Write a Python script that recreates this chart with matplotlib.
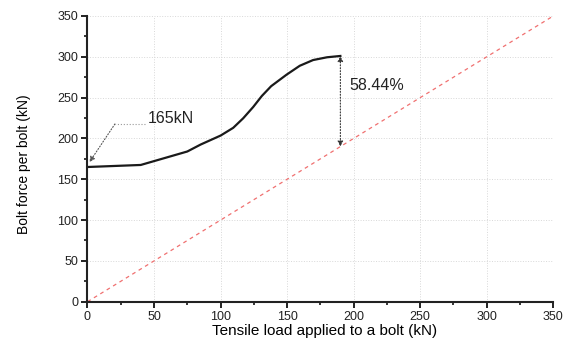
import numpy as np
import matplotlib.pyplot as plt
from matplotlib.ticker import MultipleLocator

plt.rcParams['font.family'] = ['Liberation Sans', 'DejaVu Sans']

# curva fuerza en perno vs carga aplicada
load = [0, 40, 75, 85, 100, 109.5, 117, 124.5, 131, 138, 149.5, 159.5, 169.5, 180, 190]
bolt_force = [165, 167.5, 184, 192.5, 203.5, 213, 224.7, 238.5, 252, 264, 278,
              289, 296, 299.4, 301]

ref_x = [0, 350]
ref_y = [0, 350]

fig, ax = plt.subplots(figsize=(5.7, 3.47), dpi=100)
fig.subplots_adjust(left=0.1535, right=0.9707, bottom=0.1305, top=0.954)

ax.plot(ref_x, ref_y, color='#f07070', lw=0.9, ls=(0, (3, 3)))
ax.plot(load, bolt_force, color='#1a1a1a', lw=1.6)

# flecha de diferencia
ax.annotate('', xy=(load[-1], bolt_force[-1]), xytext=(load[-1], load[-1]),
            arrowprops=dict(arrowstyle='<|-|>', color='#333333', lw=0.8,
                            ls=':', mutation_scale=8, shrinkA=0, shrinkB=0))
ax.text(197, 265, '58.44%', fontsize=11.5, va='center', ha='left', color='#222222')

# etiqueta 165kN
ax.plot([43.2, 20.6], [217.7, 217.7], color='#999999', lw=0.8, ls=':')
ax.annotate('', xy=(1.5, 171), xytext=(20.6, 217.7),
            arrowprops=dict(arrowstyle='-|>', color='#555555', lw=0.8, ls=':',
                            mutation_scale=8, shrinkA=0, shrinkB=0))
ax.text(45.4, 225, '165kN', fontsize=11.5, va='center', ha='left', color='#222222')

ax.set_xlim(0, 350)
ax.set_ylim(0, 350)
ax.xaxis.set_major_locator(MultipleLocator(50))
ax.yaxis.set_major_locator(MultipleLocator(50))
ax.xaxis.set_minor_locator(MultipleLocator(25))
ax.yaxis.set_minor_locator(MultipleLocator(25))
ax.grid(True, which='major', color='#d8d8d8', lw=0.7, ls=':')
ax.set_axisbelow(True)

for s in ['top', 'right']:
    ax.spines[s].set_visible(False)
for s in ['left', 'bottom']:
    ax.spines[s].set_linewidth(1.5)
    ax.spines[s].set_color('#222222')
ax.tick_params(which='major', direction='out', length=4.3, width=1.4,
               labelsize=9, colors='#222222', pad=2.5)
ax.tick_params(which='minor', direction='out', length=2.5, width=1.1)

ax.set_xlabel('Tensile load applied to a bolt (kN)', fontsize=11)
ax.set_ylabel('Bolt force per bolt (kN)', fontsize=10)
ax.xaxis.set_label_coords(0.508, -0.077)
ax.yaxis.set_label_coords(-0.122, 0.482)

plt.savefig('out.png')
